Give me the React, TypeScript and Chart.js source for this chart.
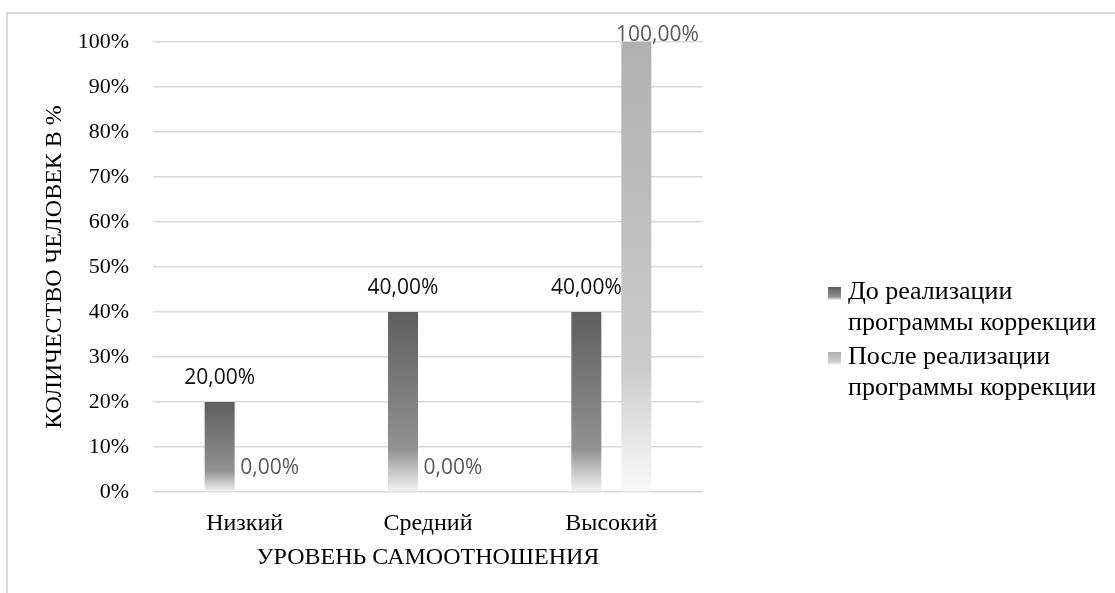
import React, { useEffect, useRef } from "react";
import { Chart, registerables } from "chart.js";

Chart.register(...registerables);

const categories = ["Низкий", "Средний", "Высокий"];
const beforeLabel = ["До реализации", "программы коррекции"];
const afterLabel = ["После реализации", "программы коррекции"];
const beforeValues = [20, 40, 40];
const afterValues = [0, 0, 100];
const yMin = 0;
const yMax = 100;
const yStep = 10;
const xTitle = "УРОВЕНЬ САМООТНОШЕНИЯ";
const yTitle = "КОЛИЧЕСТВО ЧЕЛОВЕК В %";

const SERIF = "'Liberation Serif', 'Times New Roman', serif";
const SANS = "'Open Sans', 'Noto Sans', sans-serif";

const beforeStops: [number, string][] = [
  [0, "#5e5e5e"],
  [0.76, "#929292"],
  [1, "#f4f4f4"],
];
const afterStops: [number, string][] = [
  [0, "#b0b0b0"],
  [0.72, "#cbcbcb"],
  [1, "#fafafa"],
];

function gradientFor(stops: [number, string][]) {
  return (c: any) => {
    const chart = c.chart;
    if (!chart.chartArea || c.type !== "data") return stops[0][1];
    const ys = chart.scales.y;
    const top = ys.getPixelForValue(c.raw);
    const base = ys.getPixelForValue(0);
    if (base - top < 1) return stops[0][1];
    const g = chart.ctx.createLinearGradient(0, top, 0, base);
    stops.forEach(([o, col]) => g.addColorStop(o, col));
    return g;
  };
}

const fmt = (v: number) => v.toFixed(2).replace(".", ",") + "%";

const labelsPlugin = {
  id: "valueLabels",
  afterDatasetsDraw(chart: any) {
    const ctx = chart.ctx;
    ctx.save();
    ctx.font = `21px ${SANS}`;
    ctx.textAlign = "center";
    ctx.textBaseline = "middle";
    chart.data.datasets.forEach((ds: any, i: number) => {
      const meta = chart.getDatasetMeta(i);
      ctx.fillStyle = i === 0 ? "#0d0d0d" : "#595959";
      meta.data.forEach((bar: any, j: number) => {
        let x = bar.x;
        let y = bar.y - 24;
        const minY = chart.chartArea.top - 7;
        if (y < minY) {
          y = minY;
          x += 21;
        }
        ctx.fillText(fmt(ds.data[j]), x, y);
      });
    });
    ctx.restore();
  },
};

const legendPlugin = {
  id: "sideLegend",
  afterDraw(chart: any) {
    const ctx = chart.ctx;
    const items = [
      { lines: beforeLabel, stops: beforeStops },
      { lines: afterLabel, stops: afterStops },
    ];
    ctx.save();
    ctx.font = `26px ${SERIF}`;
    ctx.textAlign = "left";
    ctx.textBaseline = "middle";
    const x0 = 828;
    const lineH = 31;
    const itemGap = 34;
    let y = 292;
    items.forEach((it) => {
      const g = ctx.createLinearGradient(0, y - 5, 0, y + 8);
      it.stops.forEach(([o, c]) => g.addColorStop(o, c));
      ctx.fillStyle = g;
      ctx.fillRect(x0, y - 5, 13, 13);
      ctx.fillStyle = "#000000";
      it.lines.forEach((ln, k) => {
        ctx.fillText(ln, x0 + 20, y + k * lineH);
      });
      y += lineH * (it.lines.length - 1) + itemGap;
    });
    ctx.restore();
  },
};

export default function App() {
  const ref = useRef<HTMLCanvasElement | null>(null);
  useEffect(() => {
    if (!ref.current) return;
    const chart = new Chart(ref.current, {
      type: "bar",
      data: {
        labels: categories,
        datasets: [
          {
            label: beforeLabel.join(" "),
            data: beforeValues,
            backgroundColor: gradientFor(beforeStops),
            borderWidth: 0,
            barPercentage: 0.6,
            categoryPercentage: 0.5455,
          },
          {
            label: afterLabel.join(" "),
            data: afterValues,
            backgroundColor: gradientFor(afterStops),
            borderWidth: 0,
            barPercentage: 0.6,
            categoryPercentage: 0.5455,
          },
        ],
      },
      options: {
        animation: false,
        responsive: false,
        maintainAspectRatio: false,
        layout: { padding: { left: 0, top: 42, right: 412, bottom: 0 } },
        plugins: {
          legend: { display: false },
          tooltip: { enabled: false },
          title: { display: false },
        },
        scales: {
          x: {
            grid: { display: false, drawTicks: false },
            border: { display: false },
            ticks: {
              color: "#000000",
              font: { family: SERIF, size: 24 },
              padding: 17,
            },
            title: {
              display: true,
              text: xTitle,
              color: "#000000",
              font: { family: SERIF, size: 24 },
              padding: { top: 0, bottom: 21 },
            },
            afterFit: (s: any) => {
              s.height = 101;
            },
          },
          y: {
            min: yMin,
            max: yMax,
            grid: { color: "#d9d9d9", lineWidth: 1.5, drawTicks: false },
            border: { display: false },
            ticks: {
              stepSize: yStep,
              color: "#000000",
              font: { family: SERIF, size: 22 },
              padding: 24,
              callback: (v: any) => v + "%",
            },
            title: {
              display: true,
              text: yTitle,
              color: "#000000",
              font: { family: SERIF, size: 24 },
              padding: { top: 40, bottom: 0 },
            },
            afterFit: (s: any) => {
              s.width = 153;
            },
          },
        },
      },
      plugins: [labelsPlugin, legendPlugin],
    });
    return () => chart.destroy();
  }, []);

  return (
    <div
      style={{
        position: "absolute",
        left: 0,
        top: 0,
        width: 1115,
        height: 593,
        overflow: "hidden",
        background: "#ffffff",
      }}
    >
      <div
        style={{
          position: "absolute",
          left: 6,
          top: 12,
          width: 1300,
          height: 800,
          border: "2px solid #d9d9d9",
          boxSizing: "border-box",
        }}
      />
      <canvas
        ref={ref}
        width={1115}
        height={593}
        style={{ position: "absolute", left: 0, top: 0, width: 1115, height: 593 }}
      />
    </div>
  );
}
